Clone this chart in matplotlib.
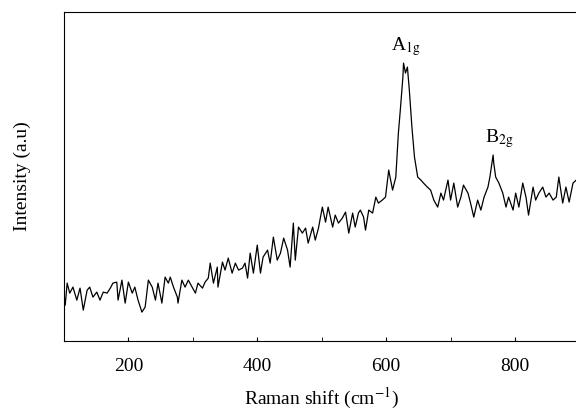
import numpy as np
import matplotlib.pyplot as plt
from matplotlib.ticker import MultipleLocator

# Raman spectrum (shift in cm^-1, intensity in a.u.)
shift = [100, 102, 105, 109, 114, 120, 125, 130, 136, 140, 145, 151, 156, 161, 167,
         172, 176, 182, 184, 190, 195, 200, 206, 210, 215, 221, 226, 231, 237, 242,
         246, 252, 257, 262, 265, 270, 276, 277, 283, 288, 293, 299, 304, 308, 315,
         319, 324, 327, 332, 338, 339, 346, 350, 355, 361, 366, 371, 377, 381, 385,
         389, 394, 400, 405, 409, 416, 420, 425, 431, 436, 441, 447, 451, 456, 459,
         464, 470, 475, 479, 486, 490, 495, 501, 506, 510, 517, 521, 526, 532, 537,
         542, 548, 552, 557, 560, 565, 568, 573, 579, 584, 588, 594, 599, 604, 610,
         615, 619, 622, 626, 627, 630, 633, 636, 640, 643, 644, 649, 654, 658, 664,
         669, 674, 680, 685, 689, 696, 700, 705, 711, 716, 720, 727, 731, 736, 742,
         747, 752, 758, 761, 766, 767, 770, 775, 781, 786, 790, 797, 801, 806, 812,
         817, 821, 828, 832, 837, 843, 848, 853, 859, 864, 868, 874, 879, 884, 890,
         895, 900]
intensity = [48, 36, 58, 48, 54, 41, 53, 31, 51, 54, 44, 49, 41, 49, 48,
             53, 58, 59, 41, 61, 38, 59, 48, 54, 41, 29, 34, 61, 54, 41,
             58, 38, 64, 58, 64, 54, 44, 38, 61, 54, 61, 54, 48, 58, 53,
             59, 63, 78, 58, 74, 54, 79, 71, 83, 68, 78, 71, 73, 78, 63,
             88, 68, 96, 68, 84, 91, 78, 104, 81, 88, 103, 91, 74, 118, 81,
             114, 108, 113, 98, 114, 101, 113, 134, 119, 134, 114, 126, 118, 123, 129,
             108, 128, 114, 128, 131, 124, 111, 131, 128, 144, 138, 141, 144, 171, 151,
             164, 208, 231, 264, 278, 268, 274, 251, 214, 191, 184, 164, 161, 158, 154,
             151, 141, 134, 148, 141, 161, 141, 158, 134, 144, 156, 148, 138, 124, 141,
             131, 144, 154, 164, 186, 178, 164, 158, 148, 134, 144, 131, 148, 134, 158,
             144, 126, 154, 141, 148, 154, 144, 148, 141, 144, 164, 138, 154, 139, 158,
             161, 165]

peak_names = [r"A$_{\mathrm{1g}}$", r"B$_{\mathrm{2g}}$"]
peak_pos = [630, 775]

plt.rcParams['font.family'] = ['Liberation Serif', 'DejaVu Serif']
plt.rcParams['mathtext.fontset'] = 'stix'

fig = plt.figure(figsize=(5.76, 4.15), dpi=100)
ax = fig.add_axes([0.111, 0.178, 0.895, 0.793])

ax.plot(shift, intensity, color='black', linewidth=0.9)

# peak labels sit just above the local maximum
for name, pos in zip(peak_names, peak_pos):
    i = int(np.argmin(np.abs(np.array(shift) - pos)))
    top = max(intensity[max(i - 3, 0):i + 3])
    ax.text(pos, top + 5, name, ha='center', va='bottom', fontsize=14)

ax.set_xlim(100, 900)
ax.set_ylim(0, 329)
ax.xaxis.set_major_locator(MultipleLocator(200))
ax.xaxis.set_minor_locator(MultipleLocator(100))
ax.tick_params(axis='x', which='both', direction='in', length=3, labelsize=14, pad=12)
ax.set_yticks([])

ax.set_xlabel("Raman shift (cm$^{-1}$)", fontsize=14, labelpad=8)
ax.set_ylabel("Intensity (a.u)", fontsize=14, labelpad=24)

fig.savefig("out.png", dpi=100)
